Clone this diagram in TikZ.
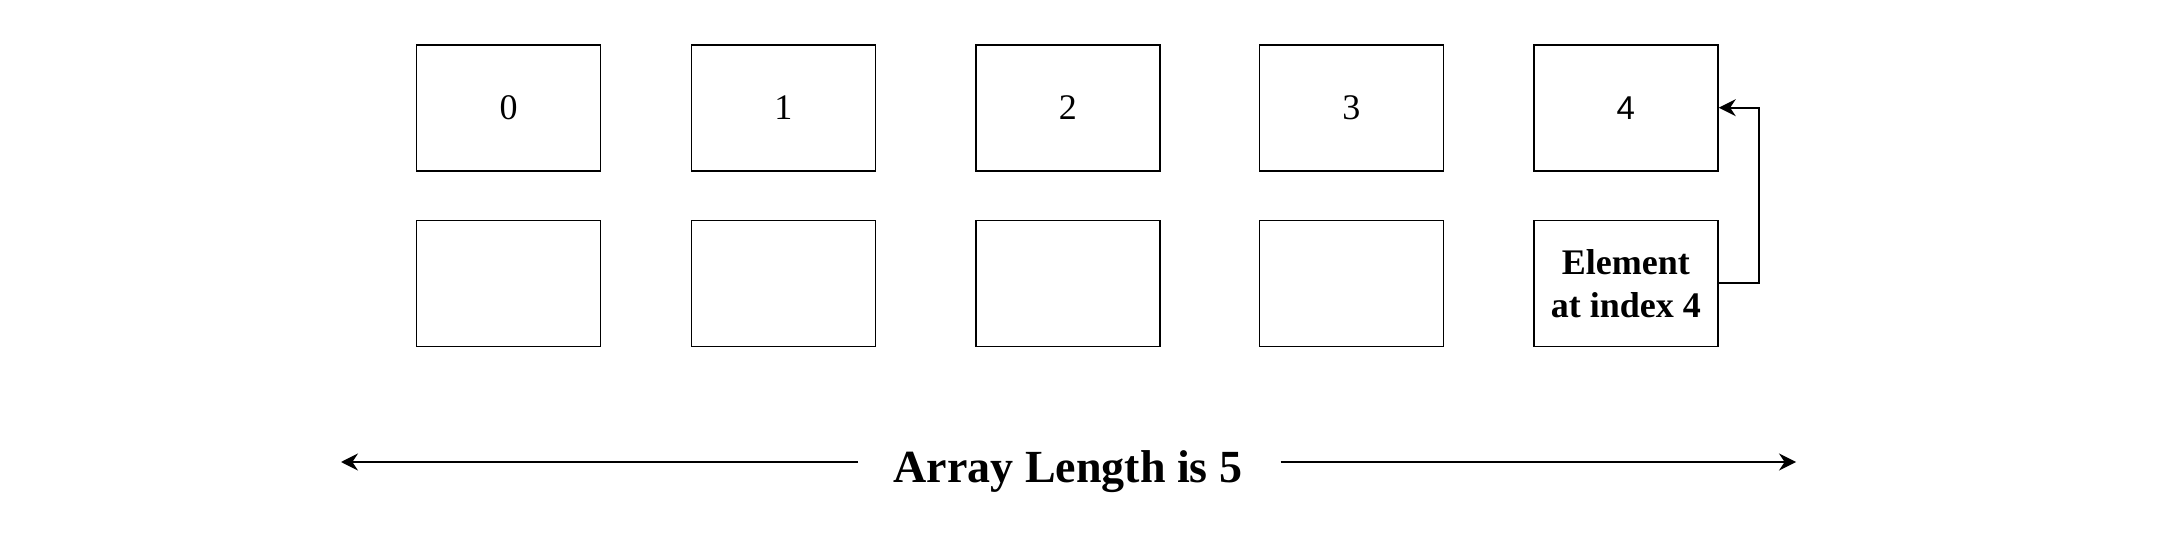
\documentclass[tikz,border=0pt]{standalone}
\usepackage{fontspec}
\setmainfont{Liberation Serif}
\newfontfamily\cellsans{Liberation Sans}
\usetikzlibrary{arrows.meta,positioning}

\begin{document}
\begin{tikzpicture}[
  cell/.style={draw, line width=0.85pt, minimum width=92pt, minimum height=63pt,
               inner sep=0pt, font=\fontsize{18}{22}\selectfont},
  lenlabel/.style={inner sep=0pt, text height=15.5pt, text depth=5pt,
                   font=\fontsize{23}{27}\selectfont\bfseries},
  arr/.style={-{Stealth[length=8.5pt, width=8.5pt, inset=2.8pt]}, line width=0.9pt},
  node distance=24pt
]
\useasboundingbox (0,0) rectangle (1088pt,-267pt);

% index row
\node[cell] (c0) at (254.25pt,-53.85pt) {0};
\node[cell, right=44.6pt of c0] (c1) {1};
\node[cell, right=49.4pt of c1] (c2) {2};
\node[cell, right=48.9pt of c2] (c3) {3};
\node[cell, right=44.4pt of c3, font=\fontsize{16.5}{20}\selectfont\cellsans] (c4) {4};

% element row
\node[cell, below=of c0] (e0) {};
\node[cell, below=of c1] (e1) {};
\node[cell, below=of c2] (e2) {};
\node[cell, below=of c3] (e3) {};
\node[cell, below=of c4, align=center, font=\fontsize{18}{21.7}\selectfont\bfseries]
  (e4) {Element\\at index 4};

\draw[arr] (e4.east) -- ++(20pt,0) |- (c4.east);

% length
\node[lenlabel, below=52pt of e2] (len) {Array Length is 5};
\coordinate (lenL) at (170.5pt,-231pt);
\coordinate (lenR) at (898pt,-231pt);
\draw[arr] ([xshift=-17.5pt]len.west |- lenL) -- (lenL);
\draw[arr] ([xshift=19pt]len.east |- lenR) -- (lenR);
\end{tikzpicture}
\end{document}
